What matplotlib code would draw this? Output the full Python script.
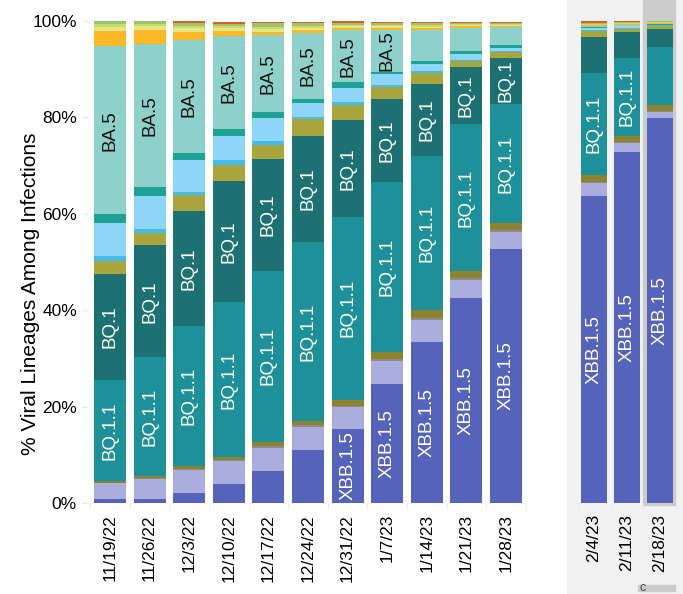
import numpy as np
import matplotlib
matplotlib.use('Agg')
import matplotlib.pyplot as plt
from matplotlib.patches import Rectangle

plt.rcParams['font.family'] = ['Liberation Sans', 'DejaVu Sans']

# week labels: 11 observed weeks, then 3 nowcast weeks on the grey panel
weeks = ['11/19/22', '11/26/22', '12/3/22', '12/10/22', '12/17/22', '12/24/22',
         '12/31/22', '1/7/23', '1/14/23', '1/21/23', '1/28/23']
nowcast_weeks = ['2/4/23', '2/11/23', '2/18/23']

# % share of each lineage per week (bottom -> top of the stack)
xbb15 = [0.8, 0.8, 2.1, 3.9, 6.6, 11.0, 15.4, 24.7, 33.3, 42.5, 52.7, 63.6, 72.8, 79.9]
xbb = [3.3, 4.2, 4.8, 4.8, 4.9, 4.8, 4.6, 4.8, 4.7, 3.8, 3.6, 2.7, 1.8, 1.2]
ch11 = [0.1, 0.2, 0.2, 0.2, 0.3, 0.3, 0.2, 0.3, 0.4, 0.4, 0.3, 0.3, 0.3, 0.3]
bn1 = [0.3, 0.4, 0.6, 0.6, 0.9, 0.9, 1.2, 1.5, 1.7, 1.4, 1.5, 1.4, 1.2, 1.2]
bq11 = [21.0, 24.6, 29.0, 32.2, 35.5, 37.1, 38.0, 35.2, 31.8, 30.5, 24.6, 21.2, 16.2, 12.1]
bq1 = [22.0, 23.3, 23.9, 25.1, 23.2, 22.1, 20.0, 17.3, 15.1, 11.9, 9.7, 7.5, 5.5, 3.7]
bf7 = [2.7, 2.5, 3.2, 3.3, 2.9, 3.4, 3.2, 2.6, 2.3, 1.2, 1.2, 1.2, 0.6, 0.6]
ba46 = [1.0, 0.8, 0.8, 1.0, 0.8, 0.5, 0.6, 0.4, 0.3, 0.3, 0.2, 0.2, 0.2, 0.1]
ba526 = [6.8, 6.9, 6.6, 5.0, 4.8, 2.9, 2.9, 2.2, 1.5, 1.2, 0.7, 0.4, 0.3, 0.1]
bf11 = [1.9, 1.8, 1.5, 1.4, 1.2, 0.9, 1.2, 0.5, 0.6, 0.5, 0.5, 0.2, 0.1, 0.1]
ba5 = [34.9, 29.8, 23.4, 19.4, 15.9, 13.7, 10.8, 8.7, 6.4, 4.9, 3.7, 0.3, 0.2, 0.1]
ba275 = [3.1, 2.8, 1.7, 1.0, 0.7, 0.5, 0.4, 0.4, 0.4, 0.3, 0.2, 0.1, 0.1, 0.1]
ba2752 = [0.9, 0.8, 0.7, 0.6, 0.6, 0.5, 0.4, 0.3, 0.3, 0.2, 0.2, 0.1, 0.1, 0.1]
ba2 = [0.5, 0.5, 0.5, 0.4, 0.5, 0.4, 0.3, 0.3, 0.3, 0.2, 0.2, 0.1, 0.1, 0.1]
ba2121 = [0.7, 0.6, 0.6, 0.5, 0.7, 0.5, 0.4, 0.3, 0.4, 0.2, 0.2, 0.3, 0.2, 0.2]
other = [0.35, 0.3, 0.3, 0.3, 0.3, 0.3, 0.3, 0.3, 0.3, 0.3, 0.3, 0.3, 0.3, 0.3]

lineages = ['XBB.1.5', 'XBB', 'CH.1.1', 'BN.1', 'BQ.1.1', 'BQ.1', 'BF.7', 'BA.4.6',
            'BA.5.2.6', 'BF.11', 'BA.5', 'BA.2.75', 'BA.2.75.2', 'BA.2', 'BA.2.12.1', 'Other']
shares = [xbb15, xbb, ch11, bn1, bq11, bq1, bf7, ba46, ba526, bf11, ba5, ba275,
          ba2752, ba2, ba2121, other]
colors = ['#5563BA', '#A9AEDD', '#8C8C8C', '#8C8230', '#1D9099', '#1D7173', '#A8A53D',
          '#44BDEE', '#8ED6F7', '#1EA293', '#8ED1CA', '#FDB827', '#E2E88A', '#C9DB6B',
          '#9DC46A', '#E05A2B']

# a lineage gets its name written in the bar when its share is at least this
label_min = {'XBB.1.5': 13, 'BQ.1.1': 13, 'BQ.1': 8, 'BA.5': 8}
label_color = {'XBB.1.5': 'white', 'BQ.1.1': 'white', 'BQ.1': 'white', 'BA.5': '#111111'}

W, H = 683, 594
fig = plt.figure(figsize=(W / 100, H / 100), dpi=100)

# grey nowcast panel behind the last three weeks
fig.patches.append(Rectangle((567 / W, 0), 116 / W, 1, transform=fig.transFigure,
                             color='#f2f2f2', zorder=-2))
fig.patches.append(Rectangle((643 / W, 89 / H), 32 / W, 505 / H, transform=fig.transFigure,
                             color='#cccccc', zorder=-1))
fig.patches.append(Rectangle((638 / W, 3 / H), 37 / W, 6 / H, transform=fig.transFigure,
                             color='#cccccc', zorder=-1))
fig.text(639 / W, 6 / H, 'c', fontsize=9, color='#444444', va='center')

ax1 = fig.add_axes([88 / W, 91 / H, 440 / W, 482 / H])
ax2 = fig.add_axes([575.8 / W, 91 / H, 102.4 / W, 482 / H])
ax2.patch.set_alpha(0)


def draw(ax, cols, labels):
    x = np.arange(len(cols))
    bottom = np.zeros(len(cols))
    for name, vals, col in zip(lineages, shares, colors):
        v = np.array(vals)[cols]
        ax.bar(x, v, 0.81, bottom=bottom, color=col, linewidth=0)
        if name in label_min:
            for xi, vi, bi in zip(x, v, bottom):
                if vi >= label_min[name]:
                    ax.text(xi, bi + vi / 2, name, rotation=90, ha='center', va='center',
                            color=label_color[name], fontsize=13.5)
        bottom += v
    ax.set_ylim(0, 100)
    ax.set_xlim(-0.556, len(cols) - 1 + 0.556)
    ax.set_xticks(x)
    ax.set_xticklabels(labels, rotation=90, fontsize=12.5)
    ax.tick_params(axis='x', length=0, pad=8)
    ax.set_xticks(np.arange(len(cols) + 1) - 0.5, minor=True)
    ax.tick_params(axis='x', which='minor', length=4, color='#e6e6e6')
    for s in ax.spines.values():
        s.set_visible(False)


draw(ax1, list(range(11)), weeks)
draw(ax2, [11, 12, 13], nowcast_weeks)

ax1.set_yticks([0, 20, 40, 60, 80, 100])
ax1.set_yticklabels([f'{t}%' for t in [0, 20, 40, 60, 80, 100]], fontsize=12.5)
ax1.tick_params(axis='y', length=4, color='#e6e6e6', pad=4)
ax1.set_ylabel('% Viral Lineages Among Infections', fontsize=15)
ax1.yaxis.set_label_coords(-0.11, 0.434)
ax2.set_yticks([])

fig.savefig('out.png', dpi=100)
